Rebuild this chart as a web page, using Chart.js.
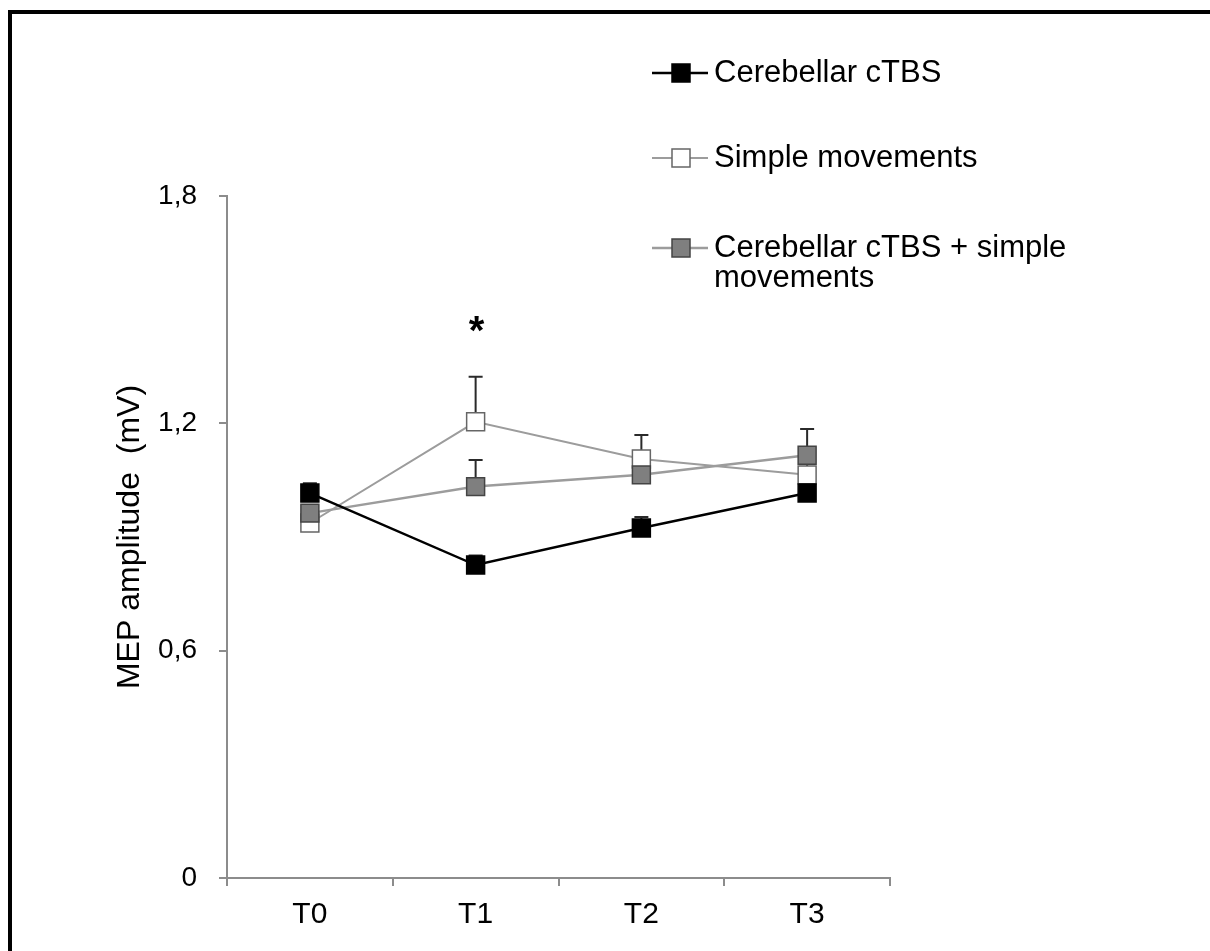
<!DOCTYPE html>
<html><head><meta charset="utf-8">
<script src="https://cdn.jsdelivr.net/npm/chart.js@4.4.0/dist/chart.umd.min.js"></script>
<style>
html,body{margin:0;padding:0;background:#fff;overflow:hidden;}
#wrap{position:relative;width:1210px;height:951px;overflow:hidden;}
#frame{position:absolute;left:8px;top:10px;width:1400px;height:1200px;border:4px solid #000;box-sizing:border-box;pointer-events:none;}
canvas{position:absolute;left:0;top:0;}
</style></head><body>
<div id="wrap"><canvas id="c" width="1210" height="951"></canvas><div id="frame"></div></div>
<script>
const categories = ['T0', 'T1', 'T2', 'T3'];
const cerebellarMean = [1.016, 0.826, 0.924, 1.016];
const cerebellarErr  = [0.026, 0.025, 0.029, 0.020];
const simpleMean     = [0.937, 1.204, 1.106, 1.064];
const simpleErr      = [0.020, 0.119, 0.063, 0.030];
const comboMean      = [0.963, 1.033, 1.064, 1.116];
const comboErr       = [0.020, 0.070, 0.030, 0.069];
const yTicks = [0, 0.6, 1.2, 1.8];
const yTickLabels = ['0', '0,6', '1,2', '1,8'];
const seriesLabels = ['Cerebellar cTBS', 'Simple movements', 'Cerebellar cTBS + simple movements'];
const legendLines = [['Cerebellar cTBS'], ['Simple movements'], ['Cerebellar cTBS + simple', 'movements']];
const significance = [{ index: 1, value: 1.46, text: '*' }];
const yTitle = 'MEP amplitude  (mV)';

const FONT = "'Liberation Sans', Arial, sans-serif";
const AXIS = '#8c8c8c';

const errorBars = {
  id: 'errorBars',
  beforeDatasetsDraw(chart) {
    const ctx = chart.ctx, ys = chart.scales.y;
    chart.data.datasets.forEach((ds, di) => {
      const meta = chart.getDatasetMeta(di);
      meta.data.forEach((pt, i) => {
        const top = ys.getPixelForValue(ds.data[i] + ds.errors[i]);
        ctx.save();
        ctx.strokeStyle = '#2a2a2a';
        ctx.lineWidth = 2;
        ctx.beginPath();
        ctx.moveTo(pt.x, pt.y);
        ctx.lineTo(pt.x, top);
        ctx.moveTo(pt.x - 7, top);
        ctx.lineTo(pt.x + 7, top);
        ctx.stroke();
        ctx.restore();
      });
    });
  }
};

const annotations = {
  id: 'annotations',
  afterDatasetsDraw(chart) {
    const ctx = chart.ctx;
    significance.forEach(s => {
      const x = chart.scales.x.getPixelForValue(s.index);
      const y = chart.scales.y.getPixelForValue(s.value);
      ctx.save();
      ctx.fillStyle = '#000';
      ctx.font = 'bold 40px ' + FONT;
      ctx.textAlign = 'center';
      ctx.textBaseline = 'middle';
      ctx.fillText(s.text, x + 1, y + 8);
      ctx.restore();
    });
  }
};

const customLegend = {
  id: 'customLegend',
  afterDraw(chart) {
    const ctx = chart.ctx;
    const rowsY = [73, 158, 248];
    chart.data.datasets.forEach((ds, i) => {
      const y = rowsY[i];
      ctx.save();
      ctx.strokeStyle = ds.borderColor;
      ctx.lineWidth = ds.borderWidth;
      ctx.beginPath();
      ctx.moveTo(652, y);
      ctx.lineTo(708, y);
      ctx.stroke();
      ctx.fillStyle = ds.pointBackgroundColor;
      ctx.strokeStyle = ds.pointBorderColor;
      ctx.lineWidth = ds.pointBorderWidth;
      ctx.fillRect(672, y - 9, 18, 18);
      ctx.strokeRect(672, y - 9, 18, 18);
      ctx.fillStyle = '#000';
      ctx.font = '31px ' + FONT;
      ctx.textAlign = 'left';
      ctx.textBaseline = 'middle';
      legendLines[i].forEach((t, k) => ctx.fillText(t, 714, y + k * 30));
      ctx.restore();
    });
  }
};

new Chart(document.getElementById('c'), {
  type: 'line',
  data: {
    labels: categories,
    datasets: [
      { label: seriesLabels[0], data: cerebellarMean, errors: cerebellarErr, order: 0,
        borderColor: '#000', borderWidth: 2.5, pointStyle: 'rect', pointRadius: 12.7,
        pointBackgroundColor: '#000', pointBorderColor: '#000', pointBorderWidth: 1.5 },
      { label: seriesLabels[1], data: simpleMean, errors: simpleErr, order: 2,
        borderColor: '#9c9c9c', borderWidth: 2, pointStyle: 'rect', pointRadius: 12.7,
        pointBackgroundColor: '#fff', pointBorderColor: '#666', pointBorderWidth: 1.5 },
      { label: seriesLabels[2], data: comboMean, errors: comboErr, order: 1,
        borderColor: '#9c9c9c', borderWidth: 2.5, pointStyle: 'rect', pointRadius: 12.7,
        pointBackgroundColor: '#7f7f7f', pointBorderColor: '#444', pointBorderWidth: 1.5 }
    ]
  },
  options: {
    responsive: false,
    animation: false,
    events: [],
    layout: { padding: { top: 196, right: 320, bottom: 0, left: 0 } },
    plugins: { legend: { display: false }, tooltip: { enabled: false } },
    scales: {
      x: {
        type: 'category',
        offset: true,
        grid: { offset: true, drawOnChartArea: false, drawTicks: true, tickLength: 8, color: AXIS, lineWidth: 2 },
        border: { display: true, color: AXIS, width: 2 },
        ticks: { color: '#000', font: { family: FONT, size: 30 }, padding: 11, maxRotation: 0 },
        afterFit: s => { s.height = 73; }
      },
      y: {
        min: 0, max: 1.8,
        grid: { drawOnChartArea: false, drawTicks: true, tickLength: 8, color: AXIS, lineWidth: 2 },
        border: { display: true, color: AXIS, width: 2 },
        afterBuildTicks: s => { s.ticks = yTicks.map(v => ({ value: v })); },
        ticks: {
          color: '#000', font: { family: FONT, size: 28 }, padding: 22,
          callback: v => { const k = yTicks.indexOf(v); return k >= 0 ? yTickLabels[k] : ''; }
        },
        title: { display: true, text: yTitle, color: '#000', font: { family: FONT, size: 32 }, padding: { top: 111, bottom: 0 } },
        afterFit: s => { s.width = 227; }
      }
    }
  },
  plugins: [errorBars, annotations, customLegend]
});
</script>
</body></html>
